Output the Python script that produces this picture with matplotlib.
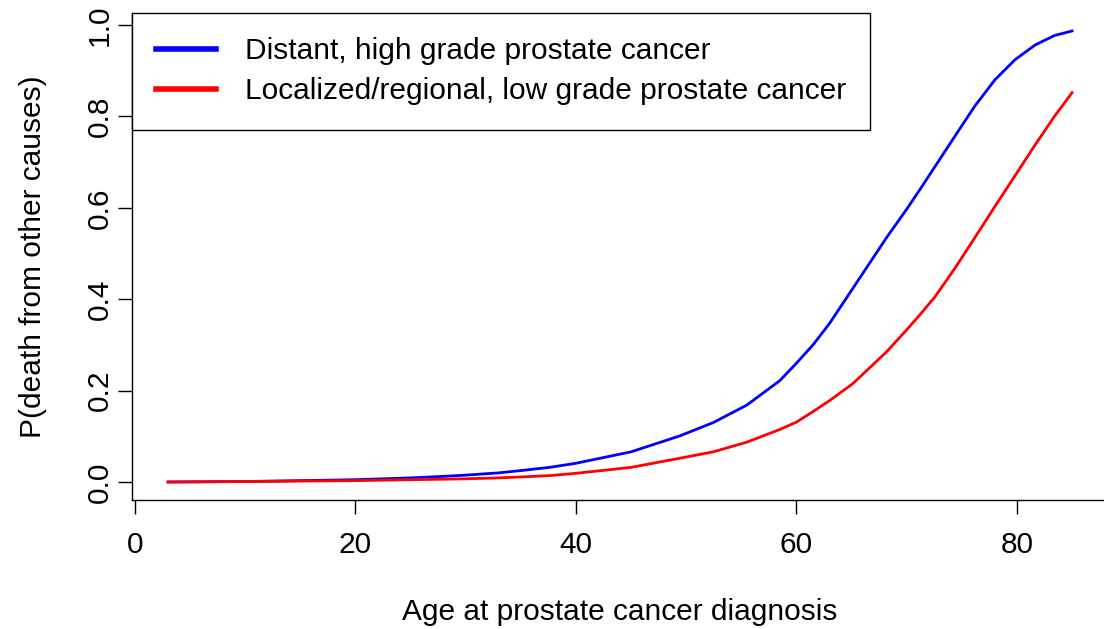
import matplotlib
matplotlib.use("Agg")
import matplotlib.pyplot as plt
from matplotlib.lines import Line2D

plt.rcParams['font.family'] = ['Liberation Sans', 'DejaVu Sans']

ages = [3, 10, 15, 20, 25, 27.7, 30, 33, 35, 37.6, 40, 45, 49.43, 52.45,
        55.48, 58.5, 60, 61.5, 63, 65.15, 68.18, 70, 71.2, 72.56, 74.38,
        76.19, 78.0, 79.82, 81.63, 83.4, 85]
p_distant = [0.000, 0.001, 0.003, 0.005, 0.009, 0.012, 0.015, 0.020, 0.025,
             0.032, 0.041, 0.066, 0.101, 0.130, 0.168, 0.222, 0.260, 0.300,
             0.347, 0.425, 0.535, 0.597, 0.640, 0.690, 0.757, 0.823, 0.880,
             0.924, 0.956, 0.977, 0.987]
p_local = [0.000, 0.001, 0.002, 0.003, 0.005, 0.006, 0.007, 0.009, 0.011,
           0.014, 0.019, 0.032, 0.052, 0.066, 0.087, 0.115, 0.131, 0.154,
           0.178, 0.216, 0.285, 0.333, 0.366, 0.405, 0.468, 0.535, 0.603,
           0.670, 0.737, 0.800, 0.852]
labels = ["Distant, high grade prostate cancer",
          "Localized/regional, low grade prostate cancer"]
xticks = [0, 20, 40, 60, 80]
yticks = [0.0, 0.2, 0.4, 0.6, 0.8, 1.0]

W, H = 1104, 629
fig = plt.figure(figsize=(W / 100, H / 100), dpi=100)
ax = fig.add_axes([132 / W, (H - 500) / H, (1108 - 132) / W, (500 - 13) / H])

ax.plot(ages, p_distant, color='#0000FF', lw=2.0, solid_joinstyle='round')
ax.plot(ages, p_local, color='#FF0000', lw=2.0, solid_joinstyle='round')

ax.set_xlim(-0.272, 88.26)
ax.set_ylim(-0.0394, 1.0263)
for s in ['top', 'right']:
    ax.spines[s].set_visible(False)
for s in ['left', 'bottom']:
    ax.spines[s].set_linewidth(1.0)

fs = 21.5
ax.set_xticks(xticks)
ax.set_xticklabels([str(t) for t in xticks])
ax.set_yticks(yticks)
ax.set_yticklabels([f"{t:.1f}" for t in yticks], rotation=90, va='center')
ax.tick_params(axis='both', direction='out', length=10, width=1.0,
               labelsize=fs)
ax.tick_params(axis='x', pad=12.5)
ax.tick_params(axis='y', pad=3)

ax.set_xlabel("Age at prostate cancer diagnosis", fontsize=fs, labelpad=28)
ax.set_ylabel("P(death from other causes)", fontsize=fs, labelpad=28)

handles = [Line2D([], [], color='#0000FF', lw=4),
           Line2D([], [], color='#FF0000', lw=4)]
leg = ax.legend(handles, labels, loc='upper left', bbox_to_anchor=(0, 1),
                borderaxespad=0, fancybox=False, framealpha=1, fontsize=fs,
                handlelength=2.0, handletextpad=0.95, labelspacing=0.4,
                borderpad=0.82)
leg.get_frame().set_edgecolor('black')
leg.get_frame().set_linewidth(1.0)

fig.savefig("out.png", dpi=100)
